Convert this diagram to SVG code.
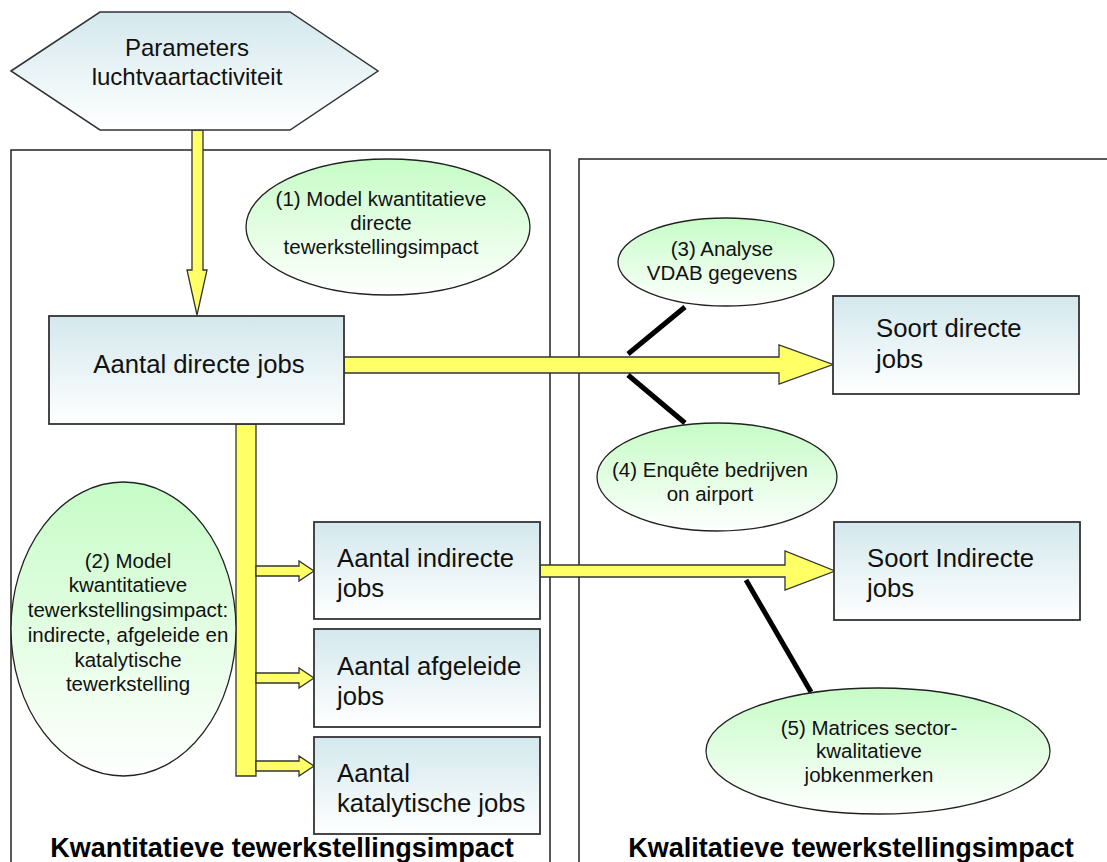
<svg xmlns="http://www.w3.org/2000/svg" width="1107" height="862" viewBox="0 0 1107 862">
<defs>
<linearGradient id="gBlue" x1="0" y1="0" x2="0" y2="1"><stop offset="0" stop-color="#d3e8ed"/><stop offset="1" stop-color="#ffffff"/></linearGradient>
<linearGradient id="gGreen" x1="0" y1="0" x2="0" y2="1"><stop offset="0" stop-color="#c6fcc6"/><stop offset="1" stop-color="#ffffff"/></linearGradient>
</defs>
<style>
.frame{fill:none;stroke:#222;stroke-width:1.5}
.box{fill:url(#gBlue);stroke:#333;stroke-width:1.8}
.ell{fill:url(#gGreen);stroke:#222;stroke-width:1.3}
.yel{fill:#ffff66;stroke:#333;stroke-width:1.3;stroke-linejoin:miter}
.blk{stroke:#000;stroke-width:5;fill:none}
.t{font-family:"Liberation Sans",Arial,sans-serif;fill:#111}
.big{font-size:25.7px}
.hex{font-size:24px}
.sm{font-size:20.5px}
.title{font-size:27px;font-weight:bold;fill:#000}
.mid{text-anchor:middle}
</style>
<rect width="1107" height="862" fill="#fff"/>
<g id="frames">
<rect class="frame" x="11" y="150" width="539" height="730"/>
<rect class="frame" x="579" y="159" width="540" height="730"/>
<text class="t title mid" x="282" y="857">Kwantitatieve tewerkstellingsimpact</text>
<text class="t title mid" x="851" y="857">Kwalitatieve tewerkstellingsimpact</text>
</g>
<g id="connectors">
<polygon class="yel" points="192,130 203,130 203,270 207,270 197,315 187,270 192,270"/>
<polygon class="yel" points="344,357 779,357 779,345 833,364.5 779,384 779,373 344,373"/>
<polygon class="yel" points="236,424 256,424 256,776 236,776"/>
<polygon class="yel" points="256,566 299,566 299,561 314,571 299,581 299,576 256,576"/>
<polygon class="yel" points="256,673 299,673 299,668 314,678 299,688 299,683 256,683"/>
<polygon class="yel" points="256,761 299,761 299,756 314,766 299,776 299,771 256,771"/>
<polygon class="yel" points="540,565 785,565 785,551 835,571 785,590 785,577 540,577"/>
<line class="blk" x1="628" y1="354" x2="685" y2="307"/>
<line class="blk" x1="628" y1="375" x2="685" y2="423"/>
<line class="blk" x1="746" y1="580" x2="811" y2="692"/>
</g>
<g id="params">
<polygon points="11,71 100,12 290,12 378,71 290,130 100,130" fill="url(#gBlue)" stroke="#333" stroke-width="1.5"/>
<text class="t hex mid" x="187" y="56">Parameters</text>
<text class="t hex mid" x="187" y="85">luchtvaartactiviteit</text>
</g>
<g id="model1">
<ellipse class="ell" cx="388" cy="227" rx="142" ry="68"/>
<text class="t sm mid" x="381" y="206">(1) Model kwantitatieve</text>
<text class="t sm mid" x="381" y="230">directe</text>
<text class="t sm mid" x="381" y="254">tewerkstellingsimpact</text>
</g>
<g id="directe">
<rect class="box" x="49" y="316" width="295" height="108"/>
<text class="t big mid" x="199" y="373">Aantal directe jobs</text>
</g>
<g id="model2">
<ellipse class="ell" cx="123.5" cy="629" rx="112.5" ry="147"/>
<text class="t sm mid" x="128" y="568">(2) Model</text>
<text class="t sm mid" x="128" y="592">kwantitatieve</text>
<text class="t sm mid" x="128" y="617">tewerkstellingsimpact:</text>
<text class="t sm mid" x="128" y="642">indirecte, afgeleide en</text>
<text class="t sm mid" x="128" y="667">katalytische</text>
<text class="t sm mid" x="128" y="691">tewerkstelling</text>
</g>
<g id="indirecte">
<rect class="box" x="314" y="522" width="226" height="97"/>
<text class="t big" x="337" y="567">Aantal indirecte</text>
<text class="t big" x="337" y="597">jobs</text>
</g>
<g id="afgeleide">
<rect class="box" x="314" y="629" width="226" height="98"/>
<text class="t big" x="337" y="675">Aantal afgeleide</text>
<text class="t big" x="337" y="705">jobs</text>
</g>
<g id="katalytische">
<rect class="box" x="314" y="737" width="226" height="97"/>
<text class="t big" x="337" y="782">Aantal</text>
<text class="t big" x="337" y="812">katalytische jobs</text>
</g>
<g id="model3">
<ellipse class="ell" cx="726" cy="262" rx="108" ry="44"/>
<text class="t sm mid" x="722" y="256">(3) Analyse</text>
<text class="t sm mid" x="722" y="280">VDAB gegevens</text>
</g>
<g id="model4">
<ellipse class="ell" cx="717" cy="477" rx="120" ry="54"/>
<text class="t sm mid" x="710" y="477">(4) Enquête bedrijven</text>
<text class="t sm mid" x="710" y="501">on airport</text>
</g>
<g id="soortdirecte">
<rect class="box" x="833" y="296" width="246" height="98"/>
<text class="t big" x="876" y="337">Soort directe</text>
<text class="t big" x="876" y="368">jobs</text>
</g>
<g id="soortindirecte">
<rect class="box" x="834" y="522" width="246" height="98"/>
<text class="t big" x="867" y="567">Soort Indirecte</text>
<text class="t big" x="867" y="597">jobs</text>
</g>
<g id="model5">
<ellipse class="ell" cx="878" cy="751" rx="172" ry="63"/>
<text class="t sm mid" x="869" y="735">(5) Matrices sector-</text>
<text class="t sm mid" x="869" y="758">kwalitatieve</text>
<text class="t sm mid" x="869" y="782">jobkenmerken</text>
</g>
</svg>
